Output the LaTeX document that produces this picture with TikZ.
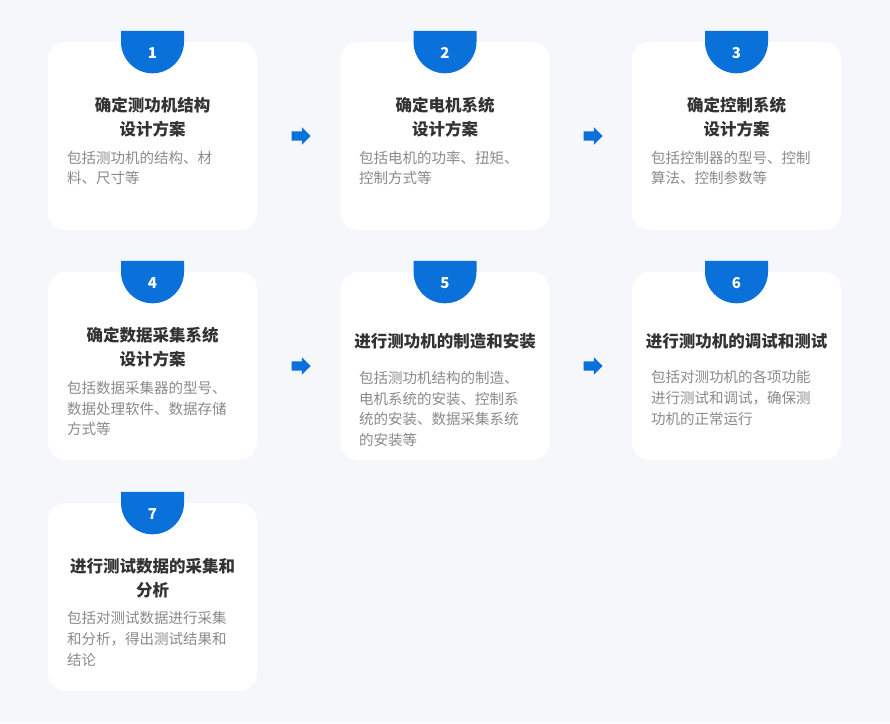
\documentclass[tikz,border=0pt]{standalone}
\usepackage{fontspec}
\setmainfont{Noto Sans CJK SC}
\usetikzlibrary{shapes.arrows,calc}
\definecolor{bgc}{HTML}{F5F7FA}
\definecolor{badgeblue}{HTML}{0A70DA}
\definecolor{titlec}{HTML}{333333}
\definecolor{descc}{HTML}{8A8A8A}
\tikzset{
  card/.style={fill=white, rounded corners=18pt, minimum width=209pt, minimum height=188pt, inner sep=0pt, draw=none},
  badgenum/.style={text=white, font=\fontsize{15}{18}\selectfont\bfseries, inner sep=0pt},
  ttl/.style={text=titlec, font=\fontsize{16.5}{24}\selectfont\bfseries, align=center, inner sep=0pt},
  dsc/.style={text=descc, font=\fontsize{14.5}{20.7}\selectfont, align=left, inner sep=0pt, anchor=west},
  flowarrow/.style={single arrow, fill=badgeblue, draw=none, minimum height=19pt,
    inner xsep=0pt, inner ysep=4.5pt, text height=0pt, text depth=0pt,
    single arrow head extend=4pt, single arrow head indent=0pt}
}
\newcommand{\badge}[3]{% name, card node, number
  \fill[badgeblue] ([xshift=-31.5pt,yshift=11pt]#2.north) -- ([xshift=31.5pt,yshift=11pt]#2.north)
    -- ([xshift=31.5pt]#2.north) arc[start angle=0, end angle=-180, radius=31.5pt] -- cycle;
  \node[badgenum] (#1) at ([yshift=-11pt]#2.north) {#3};
}
\begin{document}
\begin{tikzpicture}[x=1pt,y=-1pt]
\fill[bgc] (0,0) rectangle (890,723);
\useasboundingbox (0,0) rectangle (890,723);
% cards
\node[card] (c1) at (152.5,136) {};
\node[card] (c2) at (445,136) {};
\node[card] (c3) at (736.5,136) {};
\node[card] (c4) at (152.5,366) {};
\node[card] (c5) at (445,366) {};
\node[card] (c6) at (736.5,366) {};
\node[card] (c7) at (152.5,597) {};
% badges
\badge{b1}{c1}{1}
\badge{b2}{c2}{2}
\badge{b3}{c3}{3}
\badge{b4}{c4}{4}
\badge{b5}{c5}{5}
\badge{b6}{c6}{6}
\badge{b7}{c7}{7}
% titles
\node[ttl] (t1) at (152.5,117) {确定测功机结构\\设计方案};
\node[ttl] (t2) at (445,117) {确定电机系统\\设计方案};
\node[ttl] (t3) at (736.5,117) {确定控制系统\\设计方案};
\node[ttl] (t4) at (152.5,347.5) {确定数据采集系统\\设计方案};
\node[ttl] (t5) at (445,341) {进行测功机的制造和安装};
\node[ttl] (t6) at (736.5,341) {进行测功机的调试和测试};
\node[ttl] (t7) at (152.5,578.5) {进行测试数据的采集和\\分析};
% descriptions
\node[dsc] (d1) at (67,168) {包括测功机的结构、材\\料、尺寸等};
\node[dsc] (d2) at (359,168) {包括电机的功率、扭矩、\\控制方式等};
\node[dsc] (d3) at (651,168) {包括控制器的型号、控制\\算法、控制参数等};
\node[dsc] (d4) at (67,408.5) {包括数据采集器的型号、\\数据处理软件、数据存储\\方式等};
\node[dsc] (d5) at (359,409) {包括测功机结构的制造、\\电机系统的安装、控制系\\统的安装、数据采集系统\\的安装等};
\node[dsc] (d6) at (651,398) {包括对测功机的各项功能\\进行测试和调试，确保测\\功机的正常运行};
\node[dsc] (d7) at (67,639) {包括对测试数据进行采集\\和分析，得出测试结果和\\结论};
% arrows
\node[flowarrow] (a12) at ($(c1.east)!0.5!(c2.west)$) {};
\node[flowarrow] (a23) at ($(c2.east)!0.5!(c3.west)$) {};
\node[flowarrow] (a45) at ($(c4.east)!0.5!(c5.west)$) {};
\node[flowarrow] (a56) at ($(c5.east)!0.5!(c6.west)$) {};
\end{tikzpicture}
\end{document}
